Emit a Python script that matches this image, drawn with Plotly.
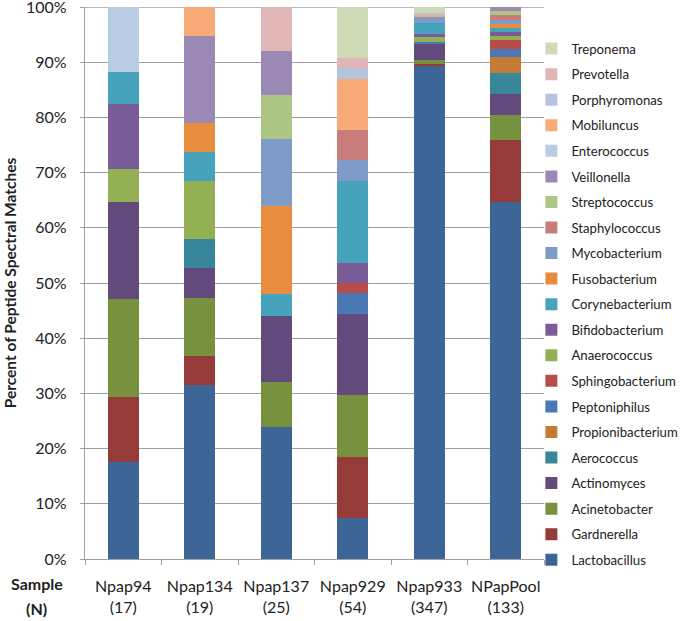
import plotly.graph_objects as go

samples = ["Npap94", "Npap134", "Npap137", "Npap929", "Npap933", "NPapPool"]
sample_n = ["(17)", "(19)", "(25)", "(54)", "(347)", "(133)"]
tick_labels = [f"{s}<br>{n}" for s, n in zip(samples, sample_n)]

# percent of peptide spectral matches per genus (bottom of stack first)
lactobacillus = [17.65, 31.58, 24.00, 7.41, 89.34, 64.66]
gardnerella = [11.76, 5.26, 0, 11.11, 0.29, 11.28]
acinetobacter = [17.65, 10.53, 8.00, 11.11, 0.86, 4.51]
actinomyces = [17.65, 5.26, 12.00, 14.81, 2.88, 3.76]
aerococcus = [0, 5.26, 0, 0, 0, 3.76]
propionibacterium = [0, 0, 0, 0, 0, 3.01]
peptoniphilus = [0, 0, 0, 3.70, 0.29, 1.50]
sphingobacterium = [0, 0, 0, 1.85, 0, 1.50]
anaerococcus = [5.88, 10.53, 0, 0, 0.86, 0.75]
bifidobacterium = [11.76, 0, 0, 3.70, 0.58, 0.75]
corynebacterium = [5.88, 5.26, 4.00, 14.81, 2.02, 0.75]
fusobacterium = [0, 5.26, 16.00, 0, 0, 0.75]
mycobacterium = [0, 0, 12.00, 3.70, 1.15, 0.75]
staphylococcus = [0, 0, 0, 5.56, 0, 0.75]
streptococcus = [0, 0, 8.00, 0, 0, 0.75]
veillonella = [0, 15.79, 8.00, 0, 0, 0.75]
enterococcus = [11.76, 0, 0, 0, 0, 0]
mobiluncus = [0, 5.26, 0, 9.26, 0.29, 0]
porphyromonas = [0, 0, 0, 1.85, 0.29, 0]
prevotella = [0, 0, 8.00, 1.85, 0, 0]
treponema = [0, 0, 0, 9.26, 1.15, 0]

series = [
    ("Lactobacillus", lactobacillus, "#3d6596"),
    ("Gardnerella", gardnerella, "#953b3a"),
    ("Acinetobacter", acinetobacter, "#77913f"),
    ("Actinomyces", actinomyces, "#624b7c"),
    ("Aerococcus", aerococcus, "#38869a"),
    ("Propionibacterium", propionibacterium, "#c77a35"),
    ("Peptoniphilus", peptoniphilus, "#4a78b4"),
    ("Sphingobacterium", sphingobacterium, "#b84c4a"),
    ("Anaerococcus", anaerococcus, "#93b055"),
    ("Bifidobacterium", bifidobacterium, "#7a5c98"),
    ("Corynebacterium", corynebacterium, "#47a3bb"),
    ("Fusobacterium", fusobacterium, "#e88c40"),
    ("Mycobacterium", mycobacterium, "#7f9cc8"),
    ("Staphylococcus", staphylococcus, "#c87c7b"),
    ("Streptococcus", streptococcus, "#adc585"),
    ("Veillonella", veillonella, "#9b89b5"),
    ("Enterococcus", enterococcus, "#b8cce4"),
    ("Mobiluncus", mobiluncus, "#f8aa78"),
    ("Porphyromonas", porphyromonas, "#b4c4df"),
    ("Prevotella", prevotella, "#e0b6b7"),
    ("Treponema", treponema, "#cfdbb6"),
]

FONT = "Lato, 'Open Sans', sans-serif"
GRID = "#a0a0a0"

fig = go.Figure()
n = len(series)
for i, (name, vals, col) in enumerate(series):
    fig.add_trace(go.Bar(
        x=tick_labels, y=vals, name=name, legendgroup=name,
        legendrank=(n - i) * 10,
        marker=dict(color=col, line=dict(width=0)),
    ))

fig.update_layout(
    width=685, height=621,
    barmode="stack", bargap=0.6,
    plot_bgcolor="white", paper_bgcolor="white",
    margin=dict(l=85, r=141, t=7, b=62, autoexpand=False),
    font=dict(family=FONT, size=15, color="#222"),
    legend=dict(
        x=0.9725, xanchor="left", y=0.952, yanchor="top",
        traceorder="grouped", tracegroupgap=5.4, maxheight=1000,
        font=dict(size=13.2, color="#222"),
        bgcolor="rgba(0,0,0,0)",
    ),
    showlegend=True,
)
fig.update_xaxes(
    type="category", tickson="boundaries", ticks="outside", ticklen=5,
    tickcolor=GRID, showline=True, linecolor=GRID, linewidth=1.3,
    showgrid=False, tickfont=dict(size=16), tickangle=0, ticklabelstandoff=13,
)
fig.update_yaxes(
    range=[0, 100], dtick=10, ticksuffix="%", ticks="outside", ticklen=4,
    tickcolor=GRID, showline=True, linecolor=GRID, linewidth=1.3,
    showgrid=True, gridcolor=GRID, gridwidth=1.3,
    tickfont=dict(size=16), ticklabeloverflow="allow", ticklabelstandoff=10,
    title=dict(text="<b>Percent of Peptide Spectral Matches</b>", font=dict(size=15.5), standoff=5),
)
# top border gridline at 100%
fig.add_shape(type="line", xref="paper", yref="y", x0=0, x1=1, y0=100, y1=100,
              line=dict(color=GRID, width=1.3), layer="below")
fig.add_annotation(
    text="<b>Sample</b>", xref="paper", yref="paper",
    x=-0.105, y=-0.0444, xanchor="center", yanchor="middle", showarrow=False,
    font=dict(size=16),
)
fig.add_annotation(
    text="<b>(N)</b>", xref="paper", yref="paper",
    x=-0.105, y=-0.0897, xanchor="center", yanchor="middle", showarrow=False,
    font=dict(size=16),
)

fig.write_html(
    "out.html",
    config={"displayModeBar": False},
    post_script="document.body.style.margin='0';document.body.style.overflow='hidden';",
)
